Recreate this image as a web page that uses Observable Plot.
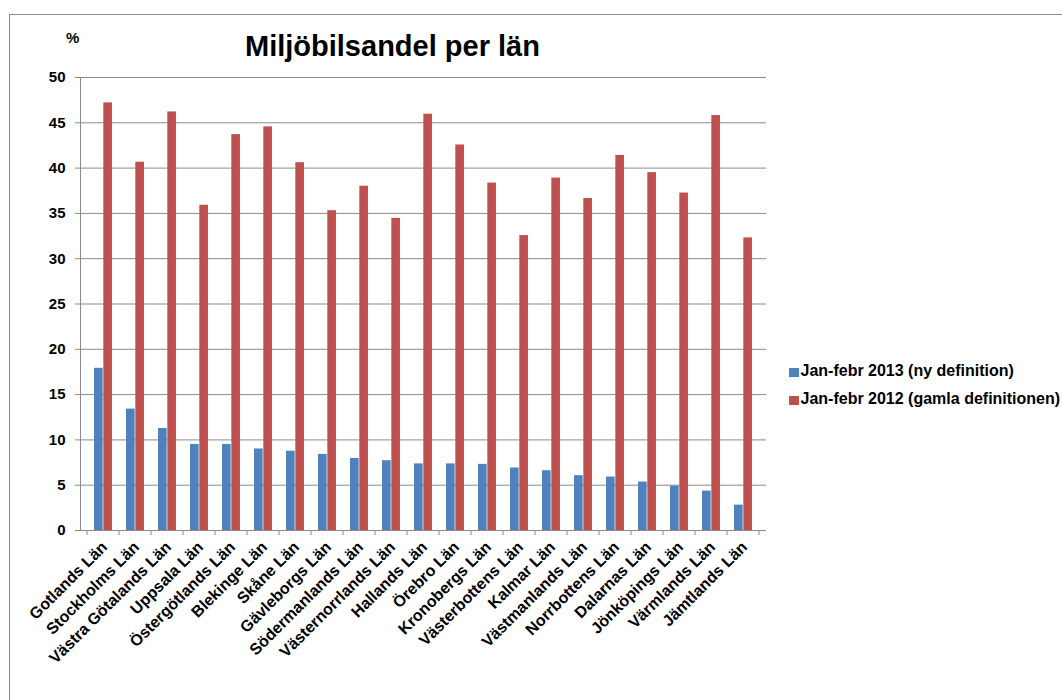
<!DOCTYPE html>
<html>
<head>
<meta charset="utf-8">
<script src="https://cdn.jsdelivr.net/npm/d3@7"></script>
<script src="https://cdn.jsdelivr.net/npm/@observablehq/plot@0.6"></script>
<style>
  html, body { margin: 0; padding: 0; background: #fff; overflow: hidden; }
  #wrap { position: relative; width: 1062px; height: 700px; font-family: "Liberation Sans", Arial, sans-serif; }
  #border { position: absolute; left: 9px; top: 14px; width: 1100px; height: 720px; border: 1px solid #8a8a8a; box-sizing: border-box; }
  #title { position: absolute; left: 245px; top: 30px; font-size: 29px; font-weight: bold; color: #000; white-space: nowrap; }
  #unit { position: absolute; left: 66px; top: 29px; font-size: 15px; font-weight: bold; }
  #legend { position: absolute; left: 789px; top: 361.5px; font-size: 16px; font-weight: bold; white-space: nowrap; }
  #legend .row { height: 28.3px; display: flex; align-items: flex-start; line-height: 18px; }
  #legend .sw { width: 9.5px; height: 9px; margin-top: 6px; margin-right: 2px; flex: none; }
  #chart { position: absolute; left: 0; top: 0; }
</style>
</head>
<body>
<div id="wrap">
  <div id="border"></div>
  <div id="chart"></div>
  <div id="unit">%</div>
  <div id="title">Miljöbilsandel per län</div>
  <div id="legend"></div>
</div>
<script>
const categories = ["Gotlands Län","Stockholms Län","Västra Götalands Län","Uppsala Län","Östergötlands Län","Blekinge Län","Skåne Län","Gävleborgs Län","Södermanlands Län","Västernorrlands Län","Hallands Län","Örebro Län","Kronobergs Län","Västerbottens Län","Kalmar Län","Västmanlands Län","Norrbottens Län","Dalarnas Län","Jönköpings Län","Värmlands Län","Jämtlands Län"];
const values2013 = [17.9,13.4,11.25,9.5,9.5,9.0,8.75,8.4,7.95,7.7,7.35,7.35,7.3,6.9,6.6,6.05,5.9,5.35,4.9,4.35,2.8];
const values2012 = [47.2,40.65,46.2,35.9,43.7,44.55,40.6,35.3,38.0,34.45,45.95,42.55,38.35,32.55,38.9,36.65,41.4,39.5,37.25,45.8,32.3];
const seriesNames = ["Jan-febr 2013 (ny definition)","Jan-febr 2012 (gamla definitionen)"];
const seriesColors = ["#4F81BD","#C0504D"];
const yTicks = [0,5,10,15,20,25,30,35,40,45,50];

const data2013 = categories.map((c,i) => ({lan: c, value: values2013[i]}));
const data2012 = categories.map((c,i) => ({lan: c, value: values2012[i]}));

const W = 1062, H = 700, mL = 80, mR = 296, mT = 77, mB = 170;
const bw = (W - mL - mR) / categories.length;
const barW = 9.3;
const half = bw / 2;

function axisDecor(index, scales, values, dims) {
  const g = d3.create("svg:g");
  const x = scales.x, y = scales.y;
  const band = x.bandwidth ? x.bandwidth() : bw;
  const y0 = y(0);
  g.append("line").attr("x1", dims.marginLeft + 0.5).attr("x2", dims.marginLeft + 0.5)
    .attr("y1", y(50)).attr("y2", y0).attr("stroke", "#8a8a8a");
  const bounds = categories.map(c => x(c)).concat([x(categories[categories.length - 1]) + band]);
  for (const b of bounds) {
    g.append("line").attr("x1", b).attr("x2", b).attr("y1", y0).attr("y2", y0 + 5).attr("stroke", "#8a8a8a");
  }
  return g.node();
}

const chart = Plot.plot({
  width: W, height: H,
  marginLeft: mL, marginRight: mR, marginTop: mT, marginBottom: mB,
  style: { fontFamily: "'Liberation Sans', Arial, sans-serif", color: "#000", background: "transparent" },
  x: { domain: categories, padding: 0, axis: null },
  y: { domain: [0, 50], axis: null },
  marks: [
    Plot.ruleY(yTicks, { stroke: "#8a8a8a", strokeWidth: 1 }),
    Plot.barY(data2013, { x: "lan", y: "value", fill: seriesColors[0], insetLeft: half - barW, insetRight: half }),
    Plot.barY(data2012, { x: "lan", y: "value", fill: seriesColors[1], insetLeft: half, insetRight: half - barW }),
    Plot.axisY({ ticks: yTicks, label: null, tickSize: 5, tickPadding: 10, fontSize: 15, fontWeight: "bold", stroke: "#8a8a8a", fill: "#000" }),
    Plot.text(categories, { x: d => d, y: 0, text: d => d, rotate: -45, textAnchor: "end", dy: 14, dx: 1, fontSize: 16, fontWeight: "bold", fill: "#000" }),
    axisDecor
  ]
});
document.getElementById("chart").appendChild(chart);

const legend = document.getElementById("legend");
seriesNames.forEach((n, i) => {
  const row = document.createElement("div");
  row.className = "row";
  const sw = document.createElement("div");
  sw.className = "sw";
  sw.style.background = seriesColors[i];
  const t = document.createElement("span");
  t.textContent = n;
  row.appendChild(sw); row.appendChild(t);
  legend.appendChild(row);
});
</script>
</body>
</html>
